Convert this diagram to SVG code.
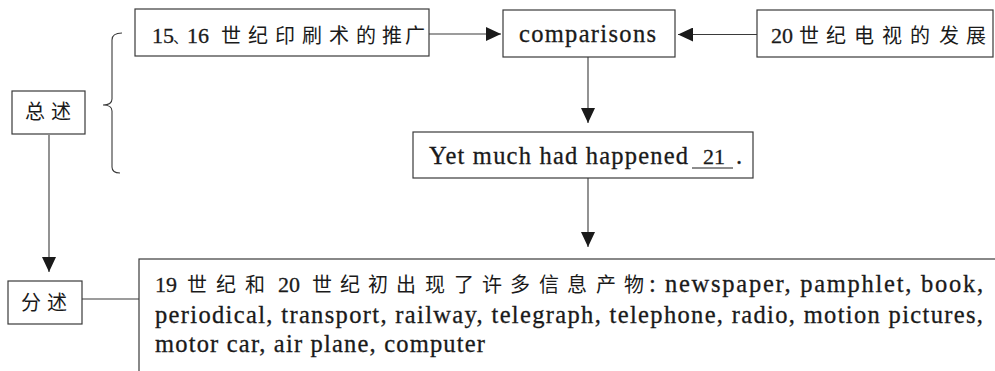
<svg xmlns="http://www.w3.org/2000/svg" width="995" height="371" viewBox="0 0 995 371">
<style>
.box{fill:#fff;stroke:#3a3a3a;stroke-width:1.2}
.ln{fill:none;stroke:#3a3a3a;stroke-width:1.1}
text{font-family:"Liberation Serif","Times New Roman","Noto Sans CJK SC",serif;font-size:24.5px;fill:#1a1a1a;stroke:#1a1a1a;stroke-width:0.3}
.cjk{font-family:"Noto Sans CJK SC","Noto Sans CJK JP",sans-serif;font-size:20px;stroke-width:0}
.num{font-family:"Liberation Serif","Times New Roman",serif;font-size:22px}
</style>
<defs>
<marker id="ah" viewBox="0 0 15 14" refX="15" refY="7" markerWidth="15" markerHeight="14" markerUnits="userSpaceOnUse" orient="auto">
<path d="M0,0 L15,7 L0,14 z" fill="#1a1a1a" stroke="none"/>
</marker>
</defs>
<rect width="995" height="371" fill="#fff"/>
<g id="connectors">
<line class="ln" x1="429" y1="34" x2="501" y2="34" marker-end="url(#ah)"/>
<line class="ln" x1="757" y1="34.5" x2="678" y2="34.5" marker-end="url(#ah)"/>
<line class="ln" x1="588" y1="57" x2="588" y2="123" marker-end="url(#ah)"/>
<line class="ln" x1="588" y1="178" x2="588" y2="247" marker-end="url(#ah)"/>
<line class="ln" x1="49" y1="135" x2="49" y2="272" marker-end="url(#ah)"/>
<line class="ln" x1="82" y1="299" x2="139" y2="299"/>
<path class="ln" d="M122,33 Q112,33 112,40 L112,99 Q112,105 103,105 Q112,105 112,111 L112,167 Q112,173 120,173"/>
</g>
<g id="n-zongshu">
<rect class="box" x="12" y="91" width="73" height="43"/>
<text class="cjk" y="119"><tspan x="25">总</tspan><tspan x="51">述</tspan></text>
</g>
<g id="n-printing">
<rect class="box" x="135" y="9" width="294" height="47"/>
<text y="43"><tspan class="num" x="152">15</tspan><tspan class="cjk" x="173" style="font-size:15px">、</tspan><tspan class="num" x="187">16</tspan><tspan class="cjk" x="221 248 275 302 329 356 382 405">世纪印刷术的推广</tspan></text>
</g>
<g id="n-comparisons">
<rect class="box" x="503" y="10" width="172" height="47"/>
<text x="519" y="42" textLength="137" lengthAdjust="spacing">comparisons</text>
</g>
<g id="n-tv">
<rect class="box" x="757" y="10" width="236" height="47"/>
<text y="43"><tspan class="num" x="771">20</tspan><tspan class="cjk" x="799 826 854 882 910 939 966">世纪电视的发展</tspan></text>
</g>
<g id="n-yet">
<rect class="box" x="413" y="132" width="340" height="46"/>
<text x="429" y="164" textLength="259" lengthAdjust="spacing">Yet much had happened</text>
<text y="164"><tspan class="num" x="703">21</tspan><tspan x="736">.</tspan></text>
<line x1="692" y1="168" x2="733" y2="168" stroke="#1a1a1a" stroke-width="1"/>
</g>
<g id="n-fenshu">
<rect class="box" x="8" y="281" width="74" height="43"/>
<text class="cjk" y="310"><tspan x="21">分</tspan><tspan x="47">述</tspan></text>
</g>
<g id="n-details">
<rect class="box" x="139" y="259" width="880" height="130"/>
<text y="292"><tspan class="num" x="155">19</tspan><tspan class="cjk" x="187 216 245">世纪和</tspan><tspan class="num" x="278">20</tspan><tspan class="cjk" x="312 340 368 396 425 454 482 510 539 567 596 624">世纪初出现了许多信息产物</tspan><tspan x="649">:</tspan></text>
<text x="665" y="292" textLength="318" lengthAdjust="spacing">newspaper, pamphlet, book,</text>
<text x="155" y="323" textLength="828" lengthAdjust="spacing">periodical, transport, railway, telegraph, telephone, radio, motion pictures,</text>
<text x="155" y="352" textLength="330" lengthAdjust="spacing">motor car, air plane, computer</text>
</g>
</svg>
